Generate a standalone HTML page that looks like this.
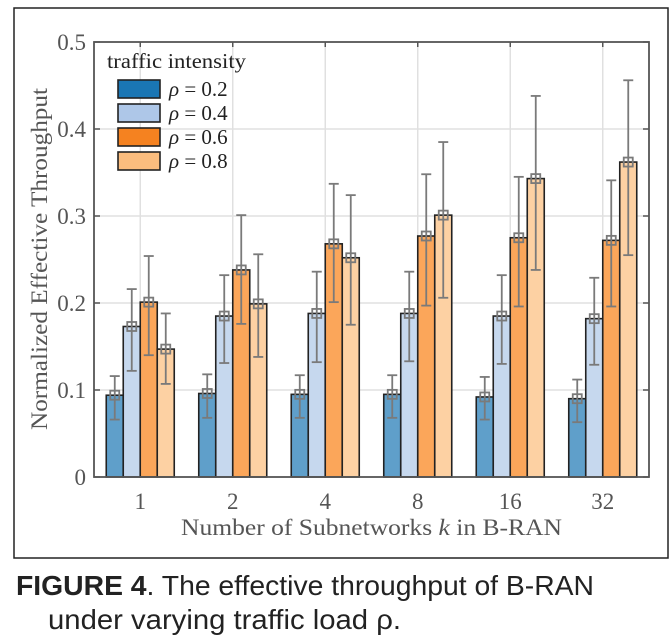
<!DOCTYPE html>
<html><head><meta charset="utf-8"><style>
body{margin:0;background:#fff;width:670px;height:644px;overflow:hidden}
svg{display:block}
</style></head><body>
<svg id="chart" width="670" height="644">
<rect x="14" y="8" width="654" height="550" fill="none" stroke="#222" stroke-width="1.5"/>
<g id="grid"></g>
<g id="bars"></g>
<g id="axes"></g>
<text x="0" y="0" transform="translate(47,259) rotate(-90)" text-anchor="middle" font-family="Liberation Serif, serif" font-size="23" fill="#555" textLength="342" lengthAdjust="spacingAndGlyphs">Normalized Effective Throughput</text>
<text x="181" y="535" font-family="Liberation Serif, serif" font-size="23" fill="#555" textLength="381" lengthAdjust="spacingAndGlyphs">Number of Subnetworks  <tspan font-style="italic">k</tspan> in B-RAN</text>
<g id="legend">
<text x="107" y="68" font-family="Liberation Serif, serif" font-size="21" fill="#222" textLength="139" lengthAdjust="spacingAndGlyphs">traffic intensity</text>
</g>
<text x="16" y="595" font-family="Liberation Sans, sans-serif" font-size="28" fill="#222" textLength="578" lengthAdjust="spacingAndGlyphs"><tspan font-weight="bold">FIGURE 4</tspan>. The effective throughput of B-RAN</text>
<text x="48" y="629" font-family="Liberation Sans, sans-serif" font-size="28" fill="#222" textLength="353" lengthAdjust="spacingAndGlyphs">under varying traffic load ρ.</text>
</svg>
<script>
const categories=["1","2","4","8","16","32"];
const seriesNames=["ρ = 0.2","ρ = 0.4","ρ = 0.6","ρ = 0.8"];
const s02=[0.094,0.096,0.095,0.095,0.092,0.090];
const s04=[0.173,0.185,0.188,0.188,0.185,0.182];
const s06=[0.201,0.238,0.268,0.277,0.275,0.272];
const s08=[0.147,0.199,0.252,0.301,0.343,0.362];
const lo02=[0.066,0.068,0.068,0.068,0.066,0.063];
const hi02=[0.116,0.118,0.117,0.117,0.115,0.112];
const lo04=[0.122,0.131,0.132,0.133,0.130,0.129];
const hi04=[0.216,0.232,0.236,0.236,0.232,0.229];
const lo06=[0.140,0.176,0.201,0.197,0.196,0.196];
const hi06=[0.254,0.301,0.337,0.348,0.345,0.341];
const lo08=[0.107,0.138,0.175,0.206,0.238,0.255];
const hi08=[0.188,0.256,0.324,0.385,0.438,0.456];
const yTicks=[0,0.1,0.2,0.3,0.4,0.5];
const yTickLabels=["0","0.1","0.2","0.3","0.4","0.5"];

const series=[s02,s04,s06,s08], los=[lo02,lo04,lo06,lo08], his=[hi02,hi04,hi06,hi08];
const fills=["#5f9fca","#c6d8ee","#fba65a","#fdd1a3"];
const legFills=["#1a76b4","#aec7e8","#f58220","#fbbd7e"];
const L=94,R=649,T=42,B=477;
const x=i=>L+(i+0.5)*(R-L)/categories.length;
const y=v=>B-(v/0.5)*(B-T);
const NS="http://www.w3.org/2000/svg";
function mk(tag,attrs,parent){const e=document.createElementNS(NS,tag);for(const k in attrs)e.setAttribute(k,attrs[k]);parent.appendChild(e);return e;}
const grid=document.getElementById('grid'),bars=document.getElementById('bars'),axes=document.getElementById('axes'),leg=document.getElementById('legend');
mk('rect',{x:L,y:T,width:R-L,height:B-T,fill:"#fff"},grid);
yTicks.forEach((t,i)=>{
 if(t>0&&t<0.5){const g=mk('line',{x1:L,x2:R,y1:y(t),y2:y(t),stroke:"#e0e0e0","stroke-width":1.5},grid);
 
 }
 const lb=mk('text',{x:L-8,y:y(t)+8,"text-anchor":"end","font-family":"Liberation Serif, serif","font-size":23,fill:"#555"},axes);
 lb.textContent=yTickLabels[i];
 
 
 mk('line',{x1:L,x2:L+6,y1:y(t),y2:y(t),stroke:"#555","stroke-width":1.5},axes);
 mk('line',{x1:R,x2:R-6,y1:y(t),y2:y(t),stroke:"#555","stroke-width":1.5},axes);
});
categories.forEach((c,i)=>{
 const g=mk('line',{x1:x(i),x2:x(i),y1:T,y2:B,stroke:"#e0e0e0","stroke-width":1.5},grid);
 
 
 mk('line',{x1:x(i),x2:x(i),y1:T,y2:T+5,stroke:"#555","stroke-width":1.5},axes);
 const lb=mk('text',{x:x(i),y:B+32,"text-anchor":"middle","font-family":"Liberation Serif, serif","font-size":23,fill:"#555"},axes);
 lb.textContent=c;
 
 
});
const bw=17;
categories.forEach((c,i)=>{
 series.forEach((s,j)=>{
  const cx=x(i)+(j-1.5)*bw;
  const r=mk('rect',{x:cx-bw/2,y:y(s[i]),width:bw,height:B-y(s[i]),fill:fills[j],stroke:"#222","stroke-width":1.6},bars);
  
  
  const e=mk('g',{stroke:"#7a7a7a","stroke-width":1.8,fill:"none"},bars);
  
  
  mk('line',{x1:cx,x2:cx,y1:y(his[j][i]),y2:y(los[j][i])},e);
  mk('line',{x1:cx-5,x2:cx+5,y1:y(his[j][i]),y2:y(his[j][i])},e);
  mk('line',{x1:cx-5,x2:cx+5,y1:y(los[j][i]),y2:y(los[j][i])},e);
  mk('rect',{x:cx-4.5,y:y(s[i])-4.5,width:9,height:9},e);
 });
});
mk('rect',{x:L,y:T,width:R-L,height:B-T,fill:"none",stroke:"#555","stroke-width":1.8},axes);
seriesNames.forEach((n,j)=>{
 const yy=80+j*24;
 const r=mk('rect',{x:118,y:yy,width:42,height:18,fill:legFills[j],stroke:"#222","stroke-width":1.6},leg);
 
 
 const t=mk('text',{x:169,y:yy+16,"font-family":"Liberation Serif, serif","font-size":21,fill:"#222"},leg);
 t.innerHTML='<tspan font-style="italic">ρ</tspan> = '+n.split('= ')[1];
 
 
});
</script>
</body></html>
